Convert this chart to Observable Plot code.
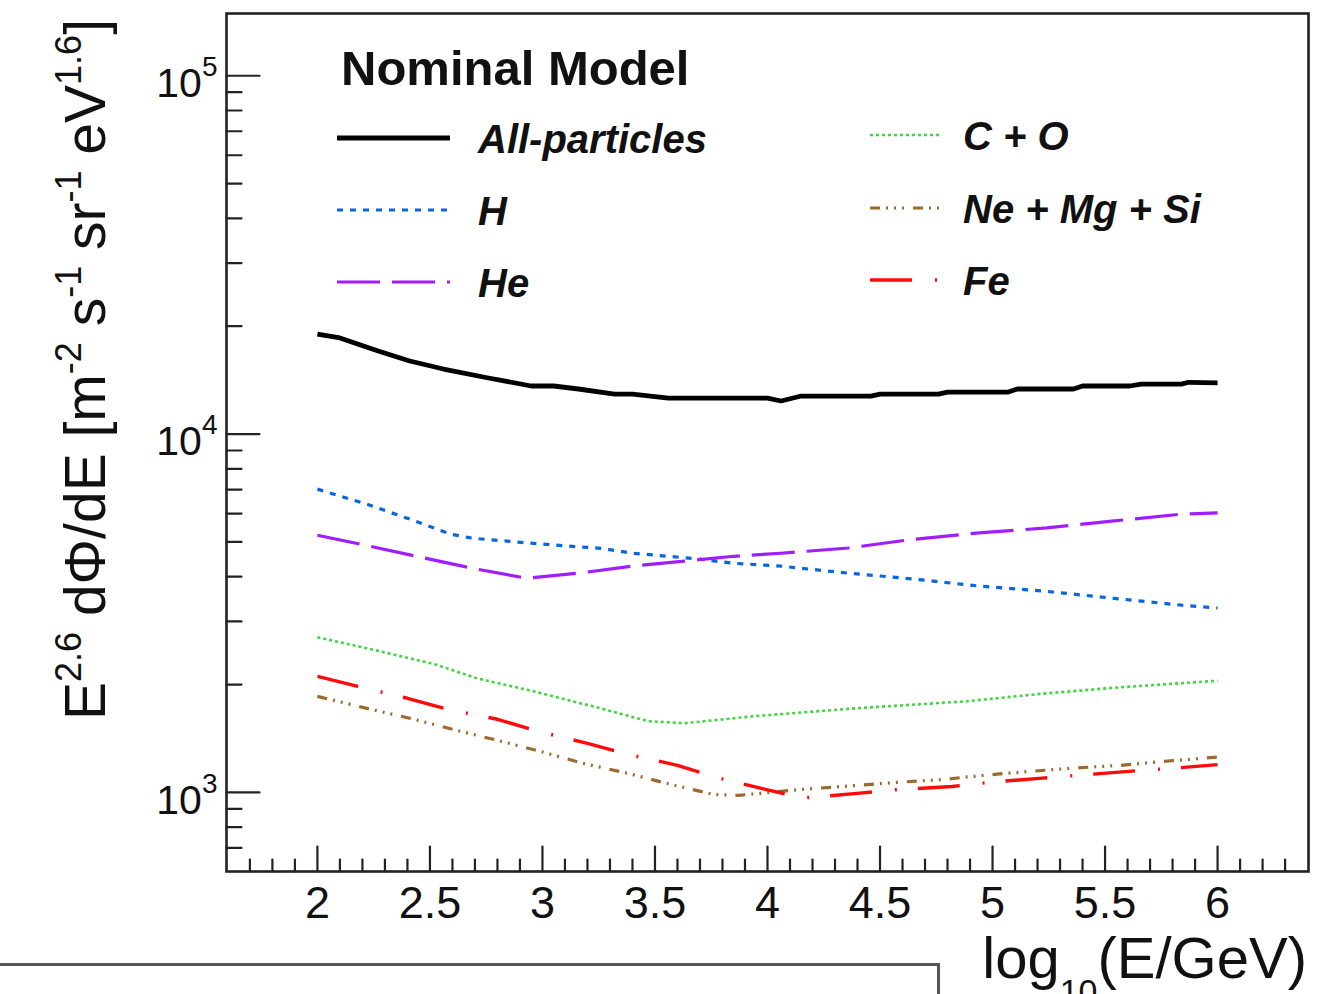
<!DOCTYPE html>
<html><head><meta charset="utf-8">
<script src="https://cdn.jsdelivr.net/npm/d3@7"></script>
<script src="https://cdn.jsdelivr.net/npm/@observablehq/plot@0.6"></script>
<style>
html,body{margin:0;padding:0;background:#fff;}
body{width:1327px;height:994px;overflow:hidden;position:relative;font-family:"Liberation Sans",Arial,sans-serif;}
#chart{position:absolute;left:0;top:0;}
#box{position:absolute;left:-6px;top:963px;width:946px;height:80px;border:3px solid #555;box-sizing:border-box;}
</style></head>
<body><div id="chart"></div><div id="box"></div>
<script>
// ---- data ----
const seriesNames = ["All-particles", "H", "He", "C + O", "Ne + Mg + Si", "Fe"];

const xAll = [2.0, 2.1, 2.27, 2.41, 2.56, 2.76, 2.95, 3.05, 3.16, 3.32, 3.4, 3.56, 4.0, 4.06, 4.15, 4.46, 4.5, 4.76, 4.8, 5.07, 5.11, 5.36, 5.4, 5.61, 5.66, 5.84, 5.87, 6.0];
const yAll = [19020, 18550, 17050, 15990, 15190, 14340, 13620, 13620, 13360, 12930, 12930, 12600, 12600, 12370, 12770, 12770, 12930, 12930, 13100, 13100, 13360, 13360, 13620, 13620, 13790, 13790, 13950, 13900];

const xH = [2.0, 2.22, 2.41, 2.59, 2.69, 2.95, 3.11, 3.26, 3.4, 3.56, 3.7, 3.85, 4.06, 4.36, 4.65, 4.95, 5.24, 5.54, 5.84, 6.0];
const yH = [7020, 6370, 5790, 5260, 5120, 4960, 4870, 4800, 4650, 4560, 4475, 4360, 4280, 4090, 3940, 3760, 3640, 3480, 3330, 3270];

const xHe = [2.0, 2.19, 2.44, 2.69, 2.93, 3.16, 3.4, 3.63, 3.85, 4.06, 4.36, 4.64, 4.94, 5.24, 5.53, 5.83, 6.0];
const yHe = [5220, 4930, 4560, 4220, 3960, 4090, 4280, 4420, 4560, 4650, 4810, 5080, 5300, 5470, 5715, 5970, 6030];

const xCO = [2.0, 2.22, 2.52, 2.71, 2.96, 3.26, 3.47, 3.63, 3.85, 3.93, 4.41, 4.88, 5.2, 5.52, 6.0];
const yCO = [2710, 2525, 2280, 2080, 1915, 1715, 1580, 1560, 1610, 1630, 1720, 1795, 1880, 1955, 2050];

const xNe = [2.0, 2.22, 2.41, 2.6, 2.8, 2.99, 3.18, 3.38, 3.57, 3.76, 3.87, 3.97, 4.15, 4.38, 4.57, 4.77, 4.96, 5.17, 5.36, 5.57, 5.76, 6.0];
const yNe = [1854, 1716, 1610, 1500, 1397, 1302, 1205, 1130, 1053, 987, 981, 994, 1019, 1044, 1066, 1085, 1116, 1145, 1169, 1190, 1221, 1255];

const xFe = [2.0, 2.18, 2.4, 2.58, 2.8, 2.98, 3.2, 3.38, 3.6, 3.78, 4.0, 4.16, 4.41, 4.57, 4.82, 5.0, 5.22, 5.41, 5.64, 5.81, 6.0];
const yFe = [2109, 1977, 1831, 1705, 1600, 1481, 1370, 1277, 1190, 1098, 1016, 965, 995, 1017, 1039, 1069, 1096, 1120, 1149, 1169, 1195];

const xTickLabels = [2, 2.5, 3, 3.5, 4, 4.5, 5, 5.5, 6];
const yTickLabels = [1e3, 1e4, 1e5];

// ---- styles ----
const styles = [
  {color: "#000000", width: 4.8, dash: null},
  {color: "#0a66dc", width: 3.2, dash: "6,7"},
  {color: "#a21cff", width: 3.2, dash: "43,12"},
  {color: "#3fd63f", width: 2.6, dash: "3,3"},
  {color: "#9c6a2e", width: 3.2, dash: "10,6,2,6,2,6,2,9"},
  {color: "#ff0a0a", width: 3.4, dash: "42,23,2,21"}
];
const xs = [xAll, xH, xHe, xCO, xNe, xFe];
const ys = [yAll, yH, yHe, yCO, yNe, yFe];

const rows = [];
seriesNames.forEach((name, i) => xs[i].forEach((x, j) => rows.push({series: name, x, y: ys[i][j]})));

const xMinor = d3.range(17, 64).map(d => d / 10).filter(v => !xTickLabels.includes(v));
const yMinor = [];
for (const e of [2, 3, 4]) for (let k = 2; k <= 9; k++) { const v = k * 10 ** e; if (v > 601.5 && v < 149000) yMinor.push(v); }

const tickShape = {draw(context, l) { context.moveTo(0, 0); context.lineTo(0, -l); }};

const lineMarks = seriesNames.map((name, i) => Plot.line(rows.filter(r => r.series === name), {
  x: "x", y: "y", stroke: styles[i].color, strokeWidth: styles[i].width,
  strokeDasharray: styles[i].dash, strokeLinecap: "butt", strokeLinejoin: "round"
}));

const plot = Plot.plot({
  width: 1327, height: 994,
  marginLeft: 226, marginRight: 19, marginTop: 13, marginBottom: 123,
  style: {fontFamily: "'Liberation Sans', Arial, sans-serif", background: "white", color: "#111"},
  x: {domain: [1.596, 6.404]},
  y: {type: "log", domain: [601.5, 149200]},
  marks: [
    ...lineMarks,
    Plot.vector(xMinor, {x: d => d, frameAnchor: "bottom", rotate: 0, length: 12, anchor: "start", shape: tickShape, stroke: "#222", strokeWidth: 2.2}),
    Plot.vector(xTickLabels, {x: d => d, frameAnchor: "bottom", rotate: 0, length: 25, anchor: "start", shape: tickShape, stroke: "#222", strokeWidth: 2.2}),
    Plot.vector(yMinor, {y: d => d, frameAnchor: "left", rotate: 90, length: 15, anchor: "start", shape: tickShape, stroke: "#222", strokeWidth: 2.2}),
    Plot.vector(yTickLabels, {y: d => d, frameAnchor: "left", rotate: 90, length: 33, anchor: "start", shape: tickShape, stroke: "#222", strokeWidth: 2.2}),
    Plot.axisX({ticks: xTickLabels, tickSize: 0, tickPadding: 15, fontSize: 45, tickFormat: d => String(d), label: null, fill: "#111"}),
    Plot.axisY({ticks: yTickLabels, tickSize: 0, tickPadding: 9, fontSize: 41, tickFormat: d => "10^" + Math.round(Math.log10(d)), label: null, fill: "#111"}),
    Plot.frame({stroke: "#222", strokeWidth: 2.6})
  ]
});
document.getElementById("chart").appendChild(plot);

const svg = d3.select(plot);

// superscripts on y tick labels
svg.selectAll('g[aria-label="y-axis tick label"] text').each(function() {
  const t = d3.select(this);
  const parts = t.text().split("^");
  t.text("");
  t.attr("dy", "0.2em");
  t.append("tspan").text(parts[0]);
  t.append("tspan").attr("dy", "-0.75em").attr("font-size", 28).text(parts[1]);
});

// y label
const yl = svg.append("text")
  .attr("transform", "translate(105,720) rotate(-90)")
  .attr("font-size", 57).attr("fill", "#111").attr("text-anchor", "start");
const yParts = [["E", 0], ["2.6", 1], [" d\u03A6/dE [m", 0], ["-2", 1], [" s", 0], ["-1", 1], [" sr", 0], ["-1", 1], [" eV", 0], ["1.6", 1], ["]", 0]];
let prevSup = false;
yParts.forEach(([txt, sup]) => {
  const ts = yl.append("tspan").text(txt);
  if (sup && !prevSup) ts.attr("dy", -24).attr("font-size", 36);
  else if (sup) ts.attr("font-size", 36);
  else if (!sup && prevSup) ts.attr("dy", 24);
  prevSup = !!sup;
});

// x label
const xl = svg.append("text")
  .attr("x", 1307).attr("y", 978).attr("font-size", 58).attr("fill", "#111").attr("text-anchor", "end");
xl.append("tspan").text("log");
xl.append("tspan").attr("dy", 25).attr("font-size", 34).text("10");
xl.append("tspan").attr("dy", -25).text("(E/GeV)");

// legend
const lg = svg.append("g").attr("fill", "#111").attr("text-anchor", "start");
lg.append("text").attr("x", 341).attr("y", 85).attr("font-size", 49).attr("font-weight", "bold").attr("text-anchor", "start").text("Nominal Model");
const legendCols = [{x1: 337, x2: 450, tx: 478, ys: [138, 210, 282]}, {x1: 870, x2: 942, tx: 963, ys: [135, 208, 280]}];
seriesNames.forEach((name, i) => {
  const c = legendCols[i < 3 ? 0 : 1];
  const yy = c.ys[i % 3];
  lg.append("line").attr("x1", c.x1).attr("x2", c.x2).attr("y1", yy).attr("y2", yy)
    .attr("stroke", styles[i].color).attr("stroke-width", styles[i].width)
    .attr("stroke-dasharray", styles[i].dash).attr("stroke-linecap", "butt");
  lg.append("text").attr("x", c.tx).attr("y", yy + 15).attr("font-size", 40)
    .attr("font-weight", "bold").attr("font-style", "italic").attr("text-anchor", "start").text(name);
});
</script>
</body></html>
